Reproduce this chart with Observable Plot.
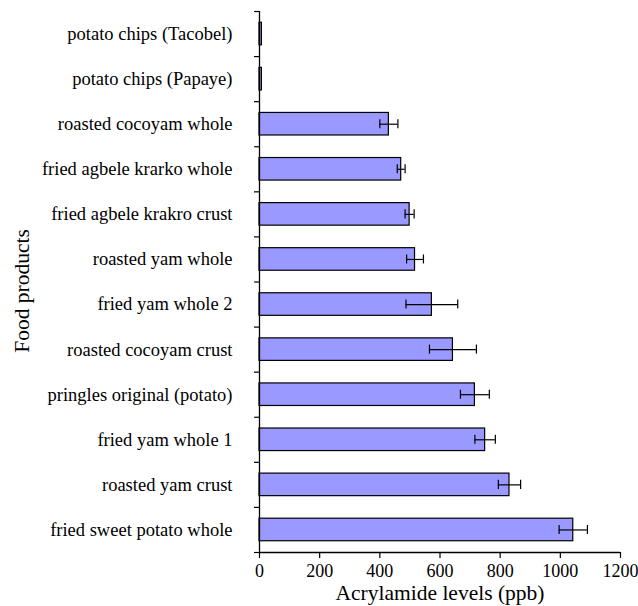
<!DOCTYPE html>
<html>
<head>
<meta charset="utf-8">
<script src="https://cdn.jsdelivr.net/npm/d3@7"></script>
<script src="https://cdn.jsdelivr.net/npm/@observablehq/plot@0.6"></script>
<style>
  body { margin: 0; background: #fff; }
  svg { font-family: "Liberation Serif", "DejaVu Serif", serif; }
</style>
</head>
<body>
<div id="chart"></div>
<script>
// Categories, top to bottom
const categories = [
  "potato chips (Tacobel)",
  "potato chips (Papaye)",
  "roasted cocoyam whole",
  "fried agbele krarko whole",
  "fried agbele krakro crust",
  "roasted yam whole",
  "fried yam whole 2",
  "roasted cocoyam crust",
  "pringles original (potato)",
  "fried yam whole 1",
  "roasted yam crust",
  "fried sweet potato whole"
];
const values = [8, 8, 430, 471, 499, 517, 573, 643, 716, 750, 831, 1043];
const errors = [0, 0, 30, 13, 15, 28, 86, 78, 48, 34, 37, 47];
const xTicks = [0, 200, 400, 600, 800, 1000, 1200];
const xLabel = "Acrylamide levels (ppb)";
const yLabel = "Food products";

const n = categories.length;
const data = categories.map((name, i) => ({
  name,
  pos: n - 1 - i,
  value: values[i],
  err: errors[i]
}));
const withErr = data.filter(d => d.err > 0);

const chart = Plot.plot({
  width: 638,
  height: 606,
  marginLeft: 259,
  marginRight: 18,
  marginTop: 11,
  marginBottom: 54,
  style: { fontFamily: "'Liberation Serif', serif", fontSize: "16px", background: "#fff", color: "#000" },
  x: { domain: [0, 1200] },
  y: { domain: [0, n] },
  marks: [
    Plot.rectX(data, {
      x1: 0, x2: "value",
      y1: d => d.pos + 0.25, y2: d => d.pos + 0.75,
      fill: "#9999ff", stroke: "#000", strokeWidth: 1.2
    }),
    Plot.ruleY(withErr, {
      x1: d => d.value - d.err, x2: d => d.value + d.err,
      y: d => d.pos + 0.5, stroke: "#000", strokeWidth: 1.2
    }),
    Plot.ruleX(withErr, {
      x: d => d.value - d.err,
      y1: d => d.pos + 0.4, y2: d => d.pos + 0.6,
      stroke: "#000", strokeWidth: 1.2
    }),
    Plot.ruleX(withErr, {
      x: d => d.value + d.err,
      y1: d => d.pos + 0.4, y2: d => d.pos + 0.6,
      stroke: "#000", strokeWidth: 1.2
    }),
    Plot.axisY({
      ticks: d3.range(0, n + 1), tickSize: 5, tickFormat: () => "",
      label: null, strokeWidth: 1.2
    }),
    Plot.axisY({
      ticks: d3.range(n).map(i => i + 0.5), tickSize: 0, tickPadding: 27,
      tickFormat: v => categories[n - 1 - Math.floor(v)],
      fontSize: 18.5, fill: "#000", label: null
    }),
    Plot.text([yLabel], {
      text: d => d, frameAnchor: "left", rotate: -90,
      dx: -237, dy: 9, fontSize: 21.5, fill: "#000", textAnchor: "middle"
    }),
    Plot.axisX({
      ticks: xTicks, tickSize: 6, tickPadding: 6, fontSize: 18, fill: "#000",
      tickFormat: d => String(d), strokeWidth: 1.2, label: null
    }),
    Plot.axisX({
      ticks: [], tickSize: 0, fontSize: 21.5, fill: "#000",
      label: xLabel, labelAnchor: "center", labelArrow: "none", labelOffset: 47
    }),
    Plot.ruleX([0], { stroke: "#000", strokeWidth: 1.3 }),
    Plot.ruleY([0], { stroke: "#000", strokeWidth: 1.3 })
  ]
});
document.getElementById("chart").appendChild(chart);
</script>
</body>
</html>
